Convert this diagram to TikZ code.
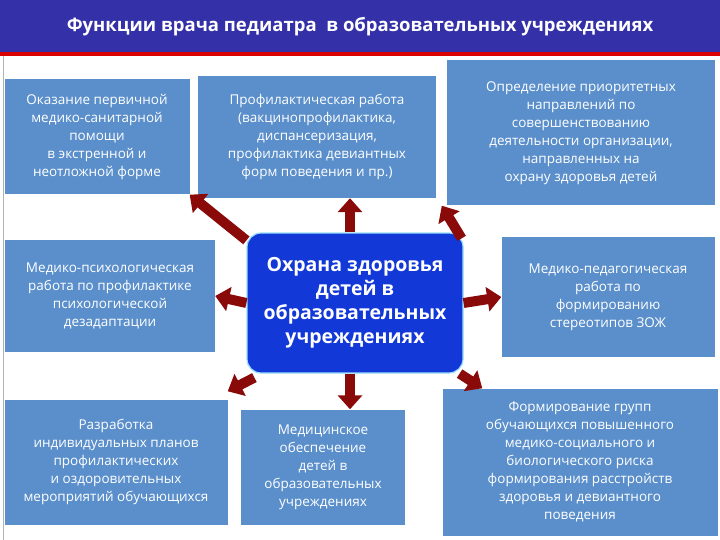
\documentclass[tikz,border=0pt]{standalone}
\usepackage{fontspec}
\setmainfont{Open Sans}
\usetikzlibrary{arrows.meta, positioning}
\definecolor{barblue}{HTML}{3430A8}
\definecolor{boxblue}{HTML}{5A8FCB}
\definecolor{hubblue}{HTML}{1238D8}
\definecolor{arrowred}{HTML}{8A0A0A}

\begin{document}
\begin{tikzpicture}[x=1pt,y=-1pt,
    every node/.style={font=\fontsize{13.5}{18}\selectfont},
    infoB/.style={fill=boxblue,text=white,align=center,inner sep=2pt},
    hubB/.style={rounded corners=14pt,fill=hubblue,draw=cyan!40,very thick,text=white,
      align=center,font=\fontsize{19.5}{24}\selectfont\bfseries},
    flow/.style={arrowred,line width=10pt,-{Triangle[width=24pt,length=14pt]}}]
  \useasboundingbox (0,0) rectangle (720,540);
  % Title
  \fill[barblue] (0,0) rectangle (720,52);
  \fill[red!85!black] (0,52) rectangle (720,56);
  \draw[gray!60] (3,56) -- (3,540);
  \node[text=white,font=\fontsize{18.5}{22}\selectfont\bfseries] (title) at (360,27)
    {Функции врача педиатра \ в образовательных учреждениях};

  % Boxes
  \node[infoB,minimum width=185pt,minimum height=115pt] (b1) at (97,137)
    {Оказание первичной\\медико-санитарной\\помощи\\в экстренной и\\неотложной форме};
  \node[infoB,minimum width=238pt,minimum height=122pt] (b2) at (317,137)
    {Профилактическая работа\\(вакцинопрофилактика,\\диспансеризация,\\профилактика девиантных\\форм поведения и пр.)};
  \node[infoB,minimum width=268pt,minimum height=145pt] (b3) at (581,133)
    {Определение приоритетных\\направлений по\\совершенствованию\\деятельности организации,\\направленных на\\охрану здоровья детей};
  \node[infoB,minimum width=210pt,minimum height=112pt] (b4) at (110,296)
    {Медико-психологическая\\работа по профилактике\\психологической\\дезадаптации};
  \node[hubB,minimum width=216pt,minimum height=140pt] (hub) at (355,303)
    {Охрана здоровья\\детей в\\образовательных\\учреждениях};
  \node[infoB,minimum width=213pt,minimum height=120pt] (b6) at (608,297)
    {Медико-педагогическая\\работа по\\формированию\\стереотипов ЗОЖ};
  \node[infoB,minimum width=223pt,minimum height=125pt] (b7) at (116,462)
    {Разработка\\индивидуальных планов\\профилактических\\и оздоровительных\\мероприятий обучающихся};
  \node[infoB,minimum width=164pt,minimum height=115pt] (b8) at (323,467)
    {Медицинское\\обеспечение\\детей в\\образовательных\\учреждениях};
  \node[infoB,minimum width=275pt,minimum height=147pt] (b9) at (580,462)
    {Формирование групп\\обучающихся повышенного\\медико-социального и\\биологического риска\\формирования расстройств\\здоровья и девиантного\\поведения};

  % Arrows
  \draw[flow] (hub.north west) ++(0,8) -- (b1.south east);
  \draw[flow] ([xshift=-5pt]hub.north) -- ([xshift=33pt]b2.south);
  \draw[flow] (hub.north east) ++(-2,6) -- ([xshift=-5pt]b3.south west);
  \draw[flow] (hub.west) -- (b4.east);
  \draw[flow] (hub.east) -- (b6.west);
  \draw[flow] (hub.south west) ++(8,4) -- ([yshift=8pt]b7.north east);
  \draw[flow] ([xshift=-5pt]hub.south) -- ([xshift=27pt]b8.north);
  \draw[flow] (hub.south east) ++(-4,0) -- ([xshift=40pt]b9.north west);
\end{tikzpicture}
\end{document}
